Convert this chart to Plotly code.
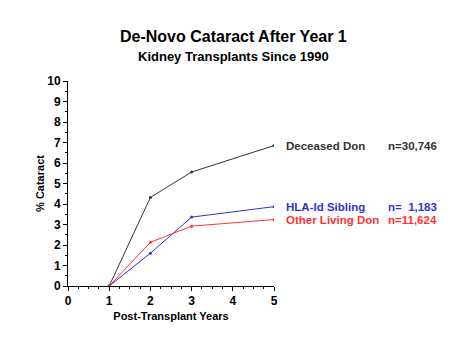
import plotly.graph_objects as go

years = [1, 2, 3, 5]
deceased = [0, 4.32, 5.56, 6.85]
hla_sibling = [0, 1.6, 3.36, 3.87]
other_living = [0, 2.13, 2.92, 3.24]

series_names = ["Deceased Don", "HLA-Id Sibling", "Other Living Don"]
series_n = ["n=30,746", "n=  1,183", "n=11,624"]
series_colors = ["#333333", "#3333cc", "#ff3333"]
series_vals = [deceased, hla_sibling, other_living]

x_ticks = [0, 1, 2, 3, 4, 5]
y_ticks = list(range(0, 11))

FONT = "Liberation Sans, Arial, Helvetica, sans-serif"

fig = go.Figure()
for name, vals, col in zip(series_names, series_vals, series_colors):
    fig.add_trace(go.Scatter(x=years, y=vals, mode="lines+markers", name=name,
                             line=dict(color=col, width=1),
                             marker=dict(color=col, size=3)))

for name, nlab, vals, col in zip(series_names, series_n, series_vals, series_colors):
    fig.add_annotation(x=years[-1], y=vals[-1], xref="x", yref="y", text="<b>" + name + "</b>",
                       showarrow=False, xanchor="left", xshift=10,
                       font=dict(size=11.5, color=col, family=FONT))
    fig.add_annotation(x=years[-1], y=vals[-1], xref="x", yref="y",
                       text="<b>" + nlab.replace(" ", "&nbsp;") + "</b>",
                       showarrow=False, xanchor="left", xshift=112,
                       font=dict(size=11.5, color=col, family=FONT))

title_x = (233 - 68) / 206
fig.add_annotation(text="<b>De-Novo Cataract After Year 1</b>", x=title_x, xref="paper",
                   xanchor="center", y=1 + (81 - 36) / 205, yref="paper", yanchor="middle",
                   showarrow=False, font=dict(size=16, color="black", family=FONT))
fig.add_annotation(text="<b>Kidney Transplants Since 1990</b>", x=title_x, xref="paper",
                   xanchor="center", y=1 + (81 - 57) / 205, yref="paper", yanchor="middle",
                   showarrow=False, font=dict(size=13, color="black", family=FONT))

fig.update_layout(
    width=467, height=340,
    margin=dict(l=68, r=193, t=81, b=54),
    paper_bgcolor="white", plot_bgcolor="white",
    showlegend=False,
    font=dict(family=FONT, size=11, color="black"),
    xaxis=dict(range=[0, 5], tickvals=x_ticks, ticktext=["<b>%d</b>" % v for v in x_ticks],
               showgrid=False, zeroline=False,
               showline=True, linecolor="black", linewidth=1,
               ticks="outside", ticklen=4, tickcolor="black",
               minor=dict(ticks="outside", ticklen=2, dtick=0.25, tickcolor="black"),
               tickfont=dict(size=12, family=FONT, color="black"),
               title=dict(text="<b>Post-Transplant Years</b>", standoff=4,
                          font=dict(size=11, family=FONT, color="black"))),
    yaxis=dict(range=[0, 10], tickvals=y_ticks, ticktext=["<b>%d</b>" % v for v in y_ticks],
               showgrid=False, zeroline=False,
               showline=True, linecolor="black", linewidth=1,
               ticks="outside", ticklen=4, tickcolor="black",
               minor=dict(ticks="outside", ticklen=2, dtick=0.5, tickcolor="black"),
               tickfont=dict(size=12, family=FONT, color="black"),
               title=dict(text="<b>% Cataract</b>", standoff=0,
                          font=dict(size=11, family=FONT, color="black"))),
)

fig.write_html("out.html")
